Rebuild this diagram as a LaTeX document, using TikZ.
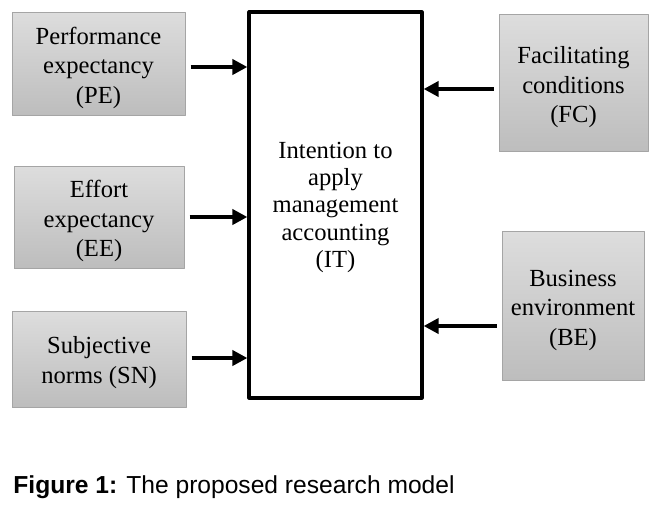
\documentclass[tikz,border=0pt]{standalone}
\usepackage{fontspec}
\setmainfont{Liberation Serif}
\setsansfont{Liberation Sans}
\usetikzlibrary{arrows.meta}

\definecolor{boxtop}{RGB}{221,221,221}
\definecolor{boxbot}{RGB}{189,189,189}
\definecolor{boxline}{RGB}{165,165,165}

\newcommand{\dropline}[1]{\rule{0pt}{#1}}

\tikzset{
  factor/.style={draw=boxline, line width=0.5pt, top color=boxtop, bottom color=boxbot,
    align=center, inner sep=0pt, font=\fontsize{12.3}{14.75}\selectfont},
  target/.style={draw=black, line width=1.6pt, fill=white,
    align=center, inner sep=0pt, font=\fontsize{12.3}{13.65}\selectfont},
  link/.style={line width=2pt, -{Triangle[length=7.5pt,width=7.5pt]}, shorten <=2.5pt},
}

\begin{document}
\begin{tikzpicture}[x=0.5pt, y=-0.5pt, line join=round]
          \useasboundingbox (0,0) rectangle (662,514);
          % --- central construct -------------------------------------
          \node[target, minimum width=86.5pt, minimum height=193pt] (IT) at (335.5,205)
            {\dropline{10.5pt}Intention to\\apply\\management\\accounting\\(IT)};
          % --- left factors ------------------------------------------
          \node[factor, minimum width=86.5pt, minimum height=51.5pt] (PE) at (98.5,63.5)
            {\dropline{13pt}Performance\\expectancy\\(PE)};
          \node[factor, minimum width=85pt, minimum height=51pt] (EE) at (99,217)
            {\dropline{13pt}Effort\\expectancy\\(EE)};
          \node[factor, minimum width=87pt, minimum height=48pt] (SN) at (99,359)
            {\dropline{12pt}Subjective\\norms (SN)};
          % --- right factors -----------------------------------------
          \node[factor, minimum width=74.5pt, minimum height=68.5pt] (FC) at (573.5,83)
            {\dropline{13pt}Facilitating\\conditions\\(FC)};
          \node[factor, minimum width=71pt, minimum height=74.5pt] (BE) at (573,305.5)
            {\dropline{13pt}Business\\environment\\(BE)};
          % --- arrows ------------------------------------------------
          \draw[link] ([yshift=-1.75pt]PE.east) -- ([yshift=-1.75pt]PE.east -| IT.west);
          \draw[link] (EE.east) -- (EE.east -| IT.west);
          \draw[link] ([yshift=0.5pt]SN.east) -- ([yshift=0.5pt]SN.east -| IT.west);
          \draw[link] ([yshift=-3pt]FC.west) -- ([yshift=-3pt]FC.west -| IT.east);
          \draw[link] ([yshift=-10.25pt]BE.west) -- ([yshift=-10.25pt]BE.west -| IT.east);
          % --- caption -----------------------------------------------
          \node[anchor=base west, inner sep=0pt, font=\fontsize{12.3}{14}\sffamily] (cap) at (13,493)
            {\textbf{Figure 1:} The proposed research model};
\end{tikzpicture}
\end{document}
